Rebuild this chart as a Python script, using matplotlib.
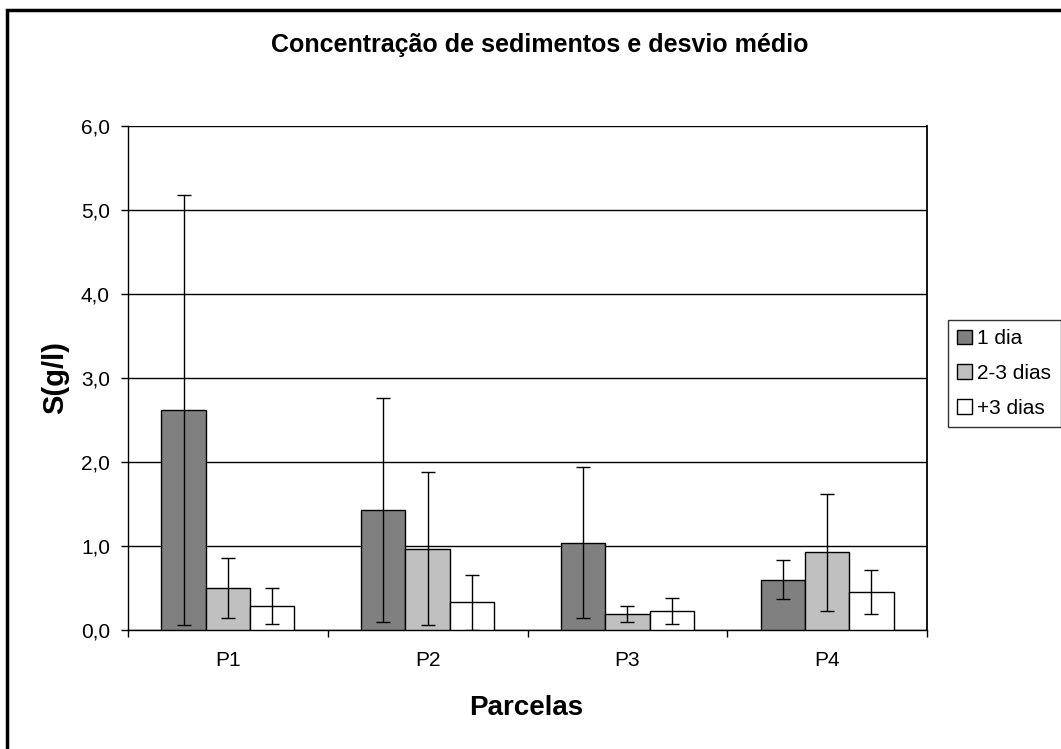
import matplotlib.pyplot as plt
from matplotlib.patches import Rectangle
import numpy as np

plt.rcParams['font.family'] = ['Liberation Sans', 'DejaVu Sans']

# data
parcelas = ['P1', 'P2', 'P3', 'P4']
series = ['1 dia', '2-3 dias', '+3 dias']
um_dia = [2.62, 1.43, 1.04, 0.60]
dois_tres_dias = [0.50, 0.97, 0.19, 0.925]
mais_tres_dias = [0.29, 0.33, 0.23, 0.45]
err_um_dia = [2.56, 1.33, 0.90, 0.23]
err_dois_tres = [0.36, 0.91, 0.095, 0.70]
err_mais_tres = [0.215, 0.33, 0.155, 0.26]
yticks = [0, 1, 2, 3, 4, 5, 6]
ytick_labels = ['0,0', '1,0', '2,0', '3,0', '4,0', '5,0', '6,0']

colors = ['#808080', '#C0C0C0', '#FFFFFF']
values = [um_dia, dois_tres_dias, mais_tres_dias]
errors = [err_um_dia, err_dois_tres, err_mais_tres]

fig = plt.figure(figsize=(10.61, 7.49), dpi=100)
ax = fig.add_axes([128 / 1061, 1 - 630 / 749, 799 / 1061, 504 / 749])

x = np.arange(len(parcelas))
w = 0.222
for i in range(3):
    ax.bar(x + (i - 1) * w, values[i], width=w, color=colors[i],
           edgecolor='black', linewidth=1, label=series[i], zorder=3)
    ax.errorbar(x + (i - 1) * w, values[i], yerr=errors[i], fmt='none',
                ecolor='black', elinewidth=1, capsize=5, capthick=1, zorder=4)

ax.set_xlim(-0.5, 3.5)
ax.set_ylim(0, 6)
ax.set_yticks(yticks)
ax.set_yticklabels(ytick_labels, fontsize=15)
ax.yaxis.grid(True, color='black', linewidth=1, zorder=0)
ax.set_axisbelow(True)

ax.set_xticks(np.arange(-0.5, 4.0, 1.0))
ax.set_xticklabels([])
ax.set_xticks(x, minor=True)
ax.set_xticklabels(parcelas, minor=True, fontsize=15)
ax.tick_params(axis='x', which='minor', length=0, pad=15)
ax.tick_params(axis='x', which='major', length=5, direction='out', width=1)
ax.tick_params(axis='y', length=5, direction='out', width=1, pad=8)

for s in ['top', 'right']:
    ax.spines[s].set_visible(False)
ax.spines['left'].set_linewidth(1)
ax.spines['bottom'].set_linewidth(1)
ax.plot([1, 1], [0, 1], transform=ax.transAxes, color='black', lw=1.3, clip_on=False)

fig.text(540 / 1061, 1 - 45 / 749, 'Concentração de sedimentos e desvio médio',
         ha='center', va='center', fontsize=18, fontweight='bold')
fig.text(55 / 1061, 1 - 378 / 749, 'S(g/l)', ha='center', va='center',
         rotation=90, fontsize=21, fontweight='bold')
fig.text(526 / 1061, 1 - 708 / 749, 'Parcelas', ha='center', va='center',
         fontsize=20, fontweight='bold')

leg = fig.legend(loc='upper left', bbox_to_anchor=(948 / 1061, 1 - 320 / 749),
                 fontsize=15, frameon=True, fancybox=False, edgecolor='black',
                 handlelength=0.7, handleheight=0.7, handletextpad=0.25,
                 labelspacing=0.75, borderpad=0.45, borderaxespad=0)
leg.get_frame().set_linewidth(1)

# outer chart border
fig.patches.append(Rectangle((7 / 1061, -0.1), 1.2, 1 - 10 / 749 + 0.1,
                             transform=fig.transFigure, fill=False,
                             edgecolor='black', linewidth=2.5))

fig.savefig('out.png', dpi=100)
